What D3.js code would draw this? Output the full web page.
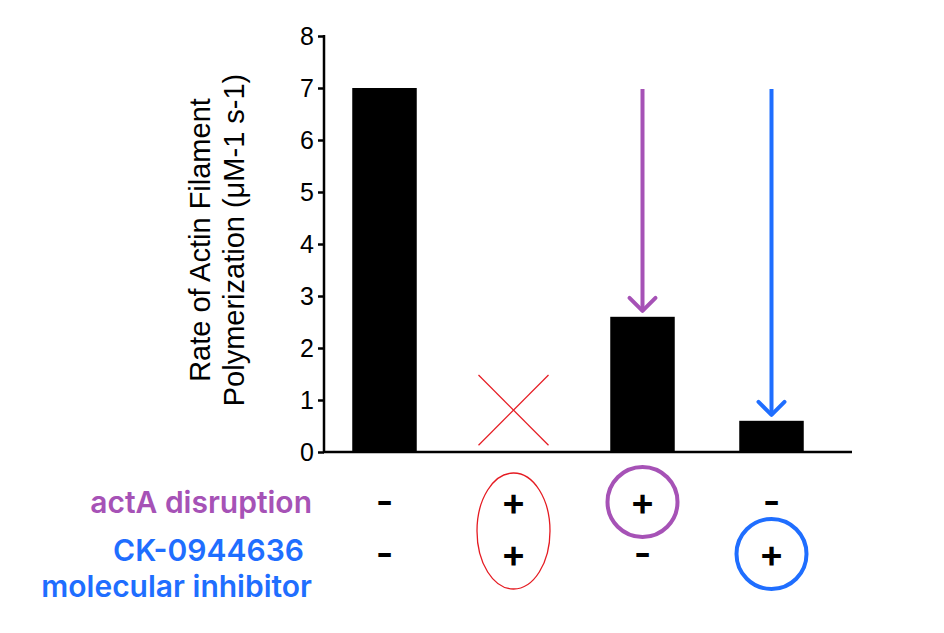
<!DOCTYPE html>
<html>
<head>
<meta charset="utf-8">
<script src="https://cdn.jsdelivr.net/npm/d3@7"></script>
<style>
  html, body { margin: 0; padding: 0; background: #fff; }
  svg { display: block; }
</style>
</head>
<body>
<svg id="chart" width="944" height="633"></svg>
<script>
// ---- data ----
const categories = ["control", "actA + inhibitor", "actA disruption", "inhibitor"];
const rates = [7, null, 2.6, 0.6];           // null = not measured (crossed out)
const actARow = ["-", "+", "+", "-"];
const inhibitorRow = ["-", "+", "-", "+"];
const yTickValues = [0, 1, 2, 3, 4, 5, 6, 7, 8];
const arrowFrom = [null, null, 7, 7];        // arrows from control level down to bar
const crossRange = [0.13, 1.48];             // extent of the red X for the missing bar
const rowLabels = ["actA disruption", "CK-0944636", "molecular inhibitor"];

const purple = "#A652B6";
const blue = "#1F6EFF";
const red = "#E51B22";

const svg = d3.select("#chart");

const y = d3.scaleLinear().domain([0, 8]).range([452, 36]);
const x = d3.scaleBand().domain(categories).range([320, 836])
  .paddingInner(0.5).paddingOuter(0.25);
const cx = c => x(c) + x.bandwidth() / 2;

// bars
svg.append("g").selectAll("rect")
  .data(categories.map((c, i) => ({ c, v: rates[i] })).filter(d => d.v != null))
  .join("rect")
  .attr("x", d => x(d.c))
  .attr("width", x.bandwidth())
  .attr("y", d => y(d.v))
  .attr("height", d => y(0) - y(d.v))
  .attr("fill", "#000");

// red cross for missing bar
categories.forEach((c, i) => {
  if (rates[i] != null) return;
  const half = 35;
  const g = svg.append("g").attr("stroke", red).attr("stroke-width", 1.2);
  g.append("line").attr("x1", cx(c) - half).attr("x2", cx(c) + half)
    .attr("y1", y(crossRange[1])).attr("y2", y(crossRange[0]));
  g.append("line").attr("x1", cx(c) + half).attr("x2", cx(c) - half)
    .attr("y1", y(crossRange[1])).attr("y2", y(crossRange[0]));
});

// y axis
const yAxis = d3.axisLeft(y).tickValues(yTickValues).tickSize(6).tickPadding(4)
  .tickFormat(d3.format("d"));
const gy = svg.append("g").attr("transform", "translate(324,0)").call(yAxis);
gy.select(".domain").remove();
gy.selectAll(".tick line").attr("stroke", "#000").attr("stroke-width", 2.5);
gy.selectAll(".tick text").attr("fill", "#000")
  .style("font-family", "'Liberation Sans', Arial, sans-serif").style("font-size", "25px");
svg.append("line").attr("x1", 324).attr("x2", 324).attr("y1", y(8) - 1).attr("y2", y(0) + 1)
  .attr("stroke", "#000").attr("stroke-width", 2.5);
// x axis baseline
svg.append("line").attr("x1", 323).attr("x2", 852).attr("y1", y(0)).attr("y2", y(0))
  .attr("stroke", "#000").attr("stroke-width", 2.5);

// y axis title
const yt = svg.append("text")
  .attr("transform", `translate(210,${240}) rotate(-90)`)
  .attr("text-anchor", "middle")
  .style("font-family", "'Liberation Sans', Arial, sans-serif")
  .style("font-size", "29px").attr("fill", "#000");
yt.append("tspan").attr("x", 0).attr("dy", 0).text("Rate of Actin Filament");
yt.append("tspan").attr("x", 0).attr("dy", 34).text("Polymerization (μM-1 s-1)");

// arrows
categories.forEach((c, i) => {
  if (arrowFrom[i] == null) return;
  const col = i === 2 ? purple : blue;
  const tip = y(rates[i]) - 6;
  const g = svg.append("g").attr("stroke", col).attr("stroke-width", 4)
    .attr("fill", "none").attr("stroke-linecap", "round").attr("stroke-linejoin", "round");
  g.append("line").attr("x1", cx(c)).attr("x2", cx(c))
    .attr("y1", y(arrowFrom[i]) + 1).attr("y2", tip).attr("stroke-linecap", "butt");
  g.append("path").attr("d", `M${cx(c) - 13},${tip - 13} L${cx(c)},${tip} L${cx(c) + 13},${tip - 13}`);
});

// condition rows
const signFont = "Inter, 'Noto Sans', sans-serif";
const row1Y = 515, row2Y = 567;
svg.append("g").selectAll("text").data(categories.map((c, i) => ({ c, s: actARow[i] })))
  .join("text").attr("x", d => cx(d.c)).attr("y", row1Y).attr("text-anchor", "middle")
  .style("font-family", signFont).style("font-weight", 600).style("font-size", "38px")
  .text(d => d.s);
svg.append("g").selectAll("text").data(categories.map((c, i) => ({ c, s: inhibitorRow[i] })))
  .join("text").attr("x", d => cx(d.c)).attr("y", row2Y).attr("text-anchor", "middle")
  .style("font-family", signFont).style("font-weight", 600).style("font-size", "38px")
  .text(d => d.s);

// highlight shapes
svg.append("ellipse").attr("cx", cx(categories[1])).attr("cy", 531).attr("rx", 36.5).attr("ry", 58)
  .attr("fill", "none").attr("stroke", red).attr("stroke-width", 1.3);
svg.append("circle").attr("cx", cx(categories[2])).attr("cy", 502).attr("r", 35)
  .attr("fill", "none").attr("stroke", purple).attr("stroke-width", 4);
svg.append("circle").attr("cx", cx(categories[3])).attr("cy", 554).attr("r", 35)
  .attr("fill", "none").attr("stroke", blue).attr("stroke-width", 4);

// row labels
const lab = (t, xx, yy, col) => svg.append("text").attr("x", xx).attr("y", yy)
  .attr("text-anchor", "end").attr("fill", col)
  .style("font-family", signFont).style("font-weight", 600).style("font-size", "30px").text(t);
lab(rowLabels[0], 312, 513, purple);
lab(rowLabels[1], 304, 561, blue);
lab(rowLabels[2], 312, 597, blue);
</script>
</body>
</html>
